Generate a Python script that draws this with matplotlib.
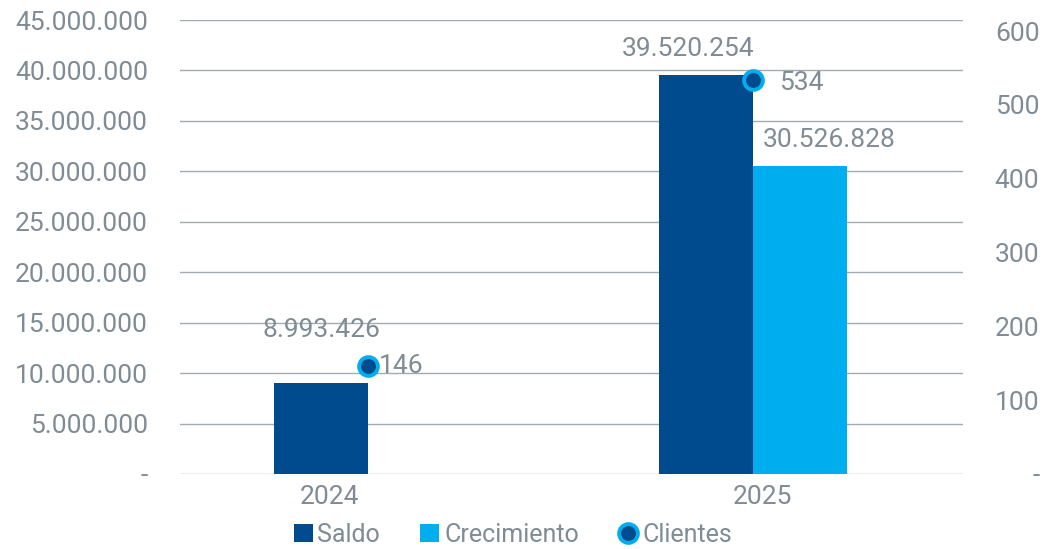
import matplotlib
matplotlib.use("Agg")
import matplotlib.pyplot as plt
from matplotlib.patches import Patch
from matplotlib.lines import Line2D
from matplotlib.ticker import FuncFormatter, MultipleLocator
from matplotlib.transforms import ScaledTranslation

# ---- data ----
categories = ["2024", "2025"]
saldo = [8993426, 39520254]
crecimiento = [None, 30526828]
clientes = [146, 534]
series_names = ["Saldo", "Crecimiento", "Clientes"]

# ---- style ----
C_DARK = "#004B8D"
C_LIGHT = "#00AEEF"
C_TEXT = "#7F8C96"
C_GRID = "#A3ABB2"
FONT = "Roboto"
FS = 19

plt.rcParams["font.family"] = [FONT, "DejaVu Sans"]

fig = plt.figure(figsize=(10.46, 5.49), dpi=100)
W, H = 1046, 549
ax = fig.add_axes([180 / W, (H - 474) / H, 783 / W, 454 / H])
ax2 = ax.twinx()

x = list(range(len(categories)))
bw = 0.244
ax.bar([i - bw / 2 for i in x], saldo, width=bw, color=C_DARK, zorder=3)
cx = [i + bw / 2 for i, v in zip(x, crecimiento) if v is not None]
cv = [v for v in crecimiento if v is not None]
ax.bar(cx, cv, width=bw, color=C_LIGHT, zorder=3)

ax.set_xlim(-0.488, 1.545)
ax.set_ylim(0, 45000000)
ax.yaxis.set_major_locator(MultipleLocator(5000000))


def fmt_left(v, pos):
    if abs(v) < 1e-6:
        return "-"
    return f"{int(round(v)):,}".replace(",", ".")


ax.yaxis.set_major_formatter(FuncFormatter(fmt_left))
ax.grid(axis="y", color=C_GRID, linewidth=1.0, zorder=0)
ax.set_axisbelow(True)
ax.set_xticks(x)
ax.set_xticklabels(categories)
ax.tick_params(axis="x", length=0, pad=8, labelsize=FS, labelcolor=C_TEXT)
ax.tick_params(axis="y", length=0, pad=23, labelsize=FS, labelcolor=C_TEXT)
for s in ax.spines.values():
    s.set_visible(False)
# category labels sit slightly off the group centres in the reference
for lbl, dx in zip(ax.get_xticklabels(), [-38, 9]):
    lbl.set_transform(lbl.get_transform() + ScaledTranslation(dx / 100, 0, fig.dpi_scale_trans))

# secondary axis
ax2.plot(x, clientes, linestyle="none", marker="o", markersize=13.5,
         markerfacecolor=C_DARK, markeredgecolor=C_LIGHT, markeredgewidth=2.8,
         zorder=5)
ax2.set_ylim(0, 615)
ax2.yaxis.set_major_locator(MultipleLocator(100))


def fmt_right(v, pos):
    if abs(v) < 1e-6:
        return "-"
    return f"{int(round(v))}"


ax2.yaxis.set_major_formatter(FuncFormatter(fmt_right))
ax2.tick_params(axis="y", length=0, pad=55, labelsize=FS, labelcolor=C_TEXT)
for lbl in ax2.get_yticklabels():
    lbl.set_horizontalalignment("right")
for s in ax2.spines.values():
    s.set_visible(False)

# data labels
saldo_offsets = [(0, 30), (-13, 10)]
for i, v, off in zip(x, saldo, saldo_offsets):
    ax.annotate(fmt_left(v, None), (i - bw / 2, v), xytext=off,
                textcoords="offset points", ha="center", va="bottom",
                fontsize=FS, color=C_TEXT)
for i, v in zip(x, crecimiento):
    if v is None:
        continue
    ax.annotate(fmt_left(v, None), (i + bw / 2, v), xytext=(21, 10),
                textcoords="offset points", ha="center", va="bottom",
                fontsize=FS, color=C_TEXT)
cli_offsets = [(8, 0), (19, -2)]
for i, v, off in zip(x, clientes, cli_offsets):
    ax2.annotate(str(v), (i, v), xytext=off, textcoords="offset points",
                 ha="left", va="center", fontsize=FS, color=C_TEXT)

# legend
handles = [
    Patch(facecolor=C_DARK, edgecolor="none"),
    Patch(facecolor=C_LIGHT, edgecolor="none"),
    Line2D([], [], linestyle="none", marker="o", markersize=13.5,
           markerfacecolor=C_DARK, markeredgecolor=C_LIGHT, markeredgewidth=2.8),
]
leg = fig.legend(handles, series_names, loc="center", ncol=3,
                 bbox_to_anchor=(513 / W, 1 - 535 / H), frameon=False,
                 fontsize=18, handlelength=0.75, handleheight=0.75,
                 handletextpad=0.2, columnspacing=1.6, labelcolor=C_TEXT)

fig.savefig("out.png", dpi=100)
